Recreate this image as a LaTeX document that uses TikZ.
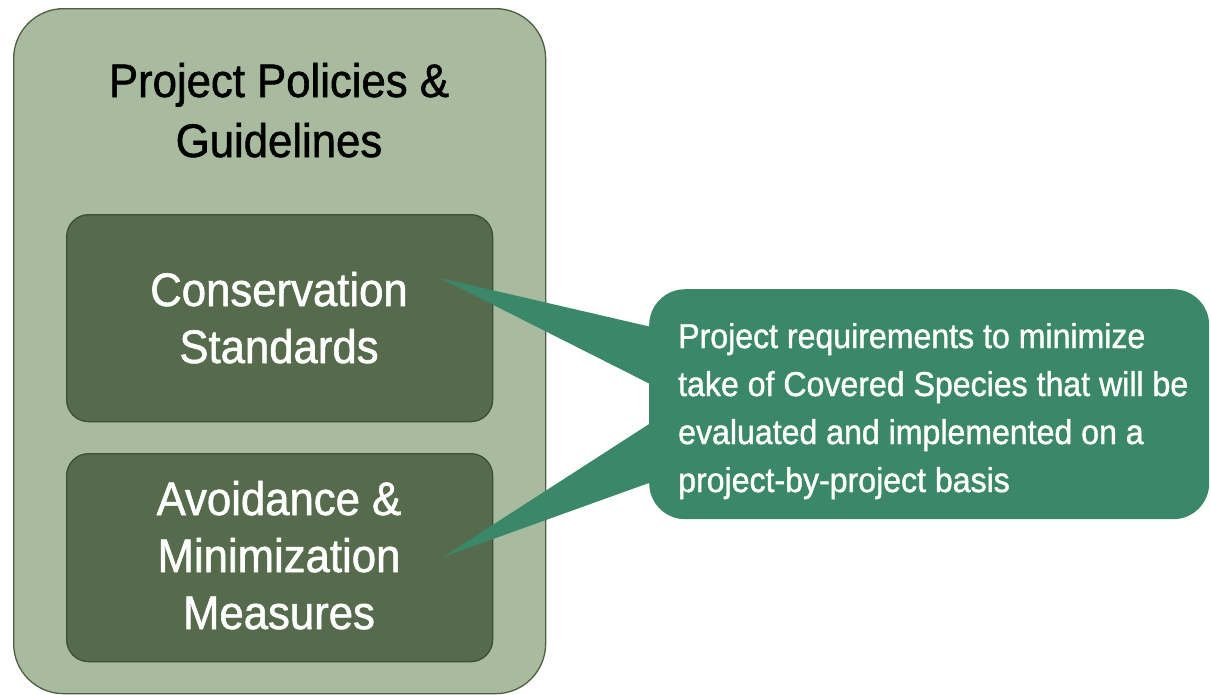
\documentclass[tikz,border=0pt]{standalone}
\usepackage{fontspec}
\setmainfont{Liberation Sans}
\newfontfamily\condfont[FakeStretch=0.93,FakeBold=1.2]{Liberation Sans}
\newfontfamily\callfont[FakeStretch=0.93,FakeBold=1.2]{Liberation Sans}
\definecolor{outerfill}{HTML}{A9BB9F}
\definecolor{outerline}{HTML}{4A6040}
\definecolor{innerfill}{HTML}{566B4C}
\definecolor{innerline}{HTML}{3D4E36}
\definecolor{callfill}{HTML}{3B8769}
\tikzset{
  outerbox/.style={draw=outerline, fill=outerfill, line width=1.3pt, rounded corners=50pt, inner sep=0pt},
  innerbox/.style={draw=innerline, fill=innerfill, line width=1.3pt, rounded corners=22pt, inner sep=0pt},
  callbox/.style={fill=callfill, rounded corners=36pt, inner sep=0pt},
  titletext/.style={font=\condfont\fontsize{47}{60}\selectfont, align=center, inner sep=0pt},
  boxtext/.style={font=\condfont\fontsize{47}{57}\selectfont, align=center, inner sep=0pt, text=white},
  calltext/.style={font=\callfont\fontsize{34.5}{48}\selectfont, align=left, inner sep=0pt, text=white},
}
\begin{document}
\begin{tikzpicture}[x=1pt,y=-1pt]
\useasboundingbox (0,0) rectangle (1211,694);
\node[outerbox, minimum width=532pt, minimum height=685pt, anchor=north west] (outer) at (13,8) {};
\node[innerbox, minimum width=426pt, minimum height=207pt, anchor=north west] (cons) at (66,214) {};
\node[innerbox, minimum width=426pt, minimum height=208pt, anchor=north west] (avoid) at (66,453) {};
\coordinate (tip1) at (440,278);
\coordinate (tip2) at (443,557);
\coordinate (b1a) at (660,329);
\coordinate (b1b) at (660,389);
\coordinate (b2a) at (660,417);
\coordinate (b2b) at (660,479);
\fill[callfill] (tip1) -- (b1a) -- (b1b) -- cycle;
\fill[callfill] (tip2) -- (b2a) -- (b2b) -- cycle;
\node[callbox, minimum width=560pt, minimum height=230pt, anchor=north west] (callout) at (649,289) {};
\node[titletext, anchor=base] (title) at (279,157) {Project Policies \&\\Guidelines};
\node[boxtext, anchor=base] (constext) at (279,363) {Conservation\\Standards};
\node[boxtext, anchor=base] (avoidtext) at (279,629) {Avoidance \&\\Minimization\\Measures};
\node[calltext, anchor=base west] (calltxt) at (678,492) {Project requirements to minimize\\take of Covered Species that will be\\evaluated and implemented on a\\project-by-project basis};
\end{tikzpicture}
\end{document}
